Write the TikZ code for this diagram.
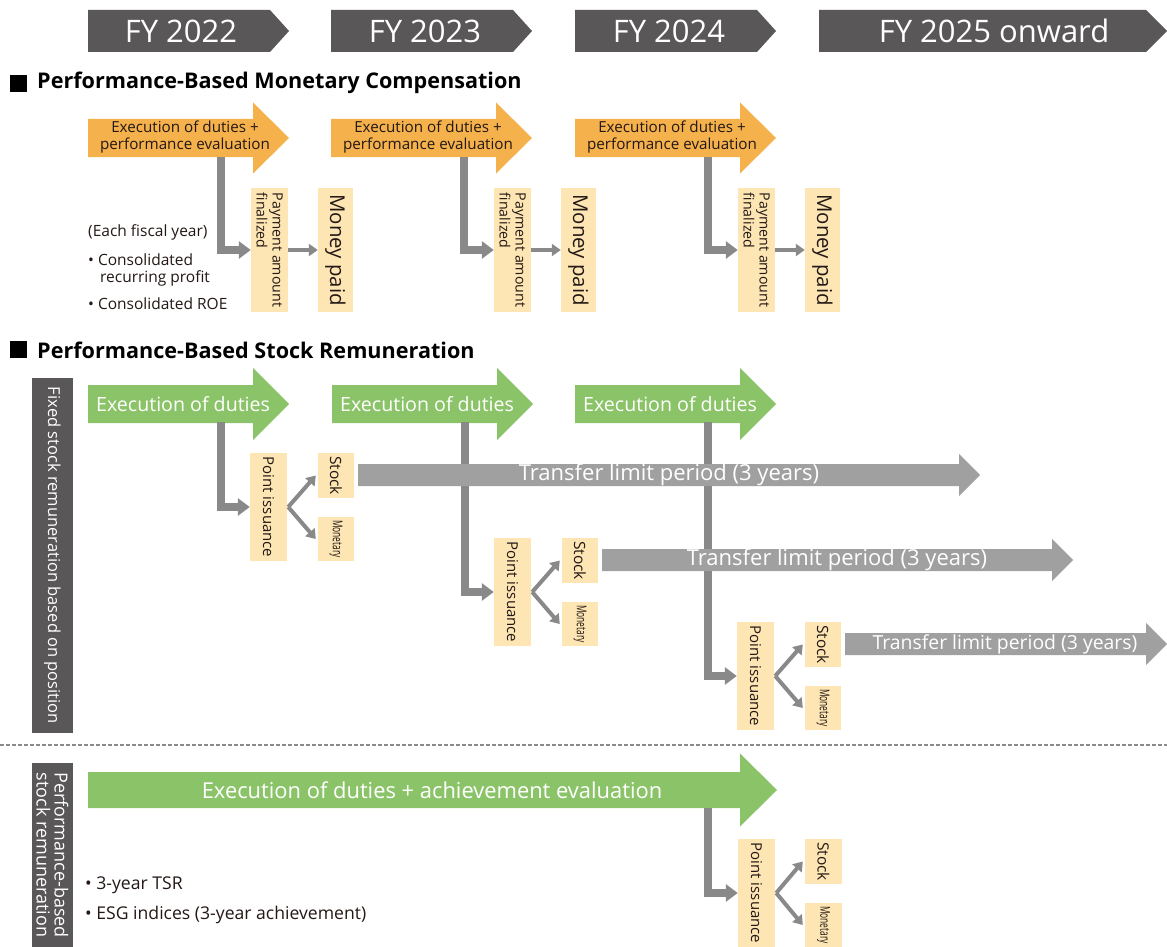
\documentclass[tikz,border=0pt]{standalone}
\usepackage{fontspec}
\usepackage{graphicx}
\setmainfont{Open Sans}
\usetikzlibrary{arrows.meta}
\definecolor{hdrgray}{RGB}{89,87,87}
\definecolor{orng}{RGB}{245,177,76}
\definecolor{ylw}{RGB}{253,230,180}
\definecolor{grn}{RGB}{139,196,104}
\definecolor{cgray}{RGB}{137,137,137}
\definecolor{tgray}{RGB}{160,160,160}
\definecolor{txt}{RGB}{35,24,21}
\newcommand{\fsz}[1]{\fontsize{#1}{#1}\selectfont}
\newcommand{\blockarrow}[7]{\fill[#1] (#2,#5-#6) -- (#3,#5-#6) -- (#3,#5-#7) -- (#4,#5) -- (#3,#5+#7) -- (#3,#5+#6) -- (#2,#5+#6) -- cycle;}
\begin{document}
\begin{tikzpicture}[x=1pt,y=-1pt,
  ybox/.style={fill=ylw, inner sep=0pt},
  conn/.style={draw=cgray, line width=8pt, -{Triangle[length=12pt,width=17pt]}},
  thinconn/.style={draw=cgray, line width=4pt, -{Triangle[length=9pt,width=12pt]}},
  vtxt/.style={rotate=-90, text=txt, inner sep=0pt},
  wtxt/.style={text=white, inner sep=0pt},
  btxt/.style={text=txt, inner sep=0pt, anchor=west}]
\useasboundingbox (0,0) rectangle (1167,947);
\fill[white] (0,0) rectangle (1167,947);

% ---------- header ----------
\blockarrow{hdrgray}{88}{270}{289}{31}{21}{21}
\blockarrow{hdrgray}{331}{513}{532}{31}{21}{21}
\blockarrow{hdrgray}{575}{757}{776}{31}{21}{21}
\blockarrow{hdrgray}{819}{1146}{1167}{31}{21}{21}
\node[wtxt, font=\fsz{31}] (fy22) at (181,31) {FY 2022};
\node[wtxt, font=\fsz{31}] (fy23) at (425,31) {FY 2023};
\node[wtxt, font=\fsz{31}] (fy24) at (669,31) {FY 2024};
\node[wtxt, font=\fsz{31}] (fy25) at (994,31) {FY 2025 onward};

% ---------- monetary compensation ----------
\fill[black] (10,75) rectangle (27,92);
\node[btxt, text=black, font=\bfseries\fsz{21.6}] (h1) at (37,83) {Performance-Based Monetary Compensation};

\foreach \i/\ox in {1/0,2/243,3/487}{
  \blockarrow{orng}{88+\ox}{253+\ox}{289+\ox}{138}{19}{35.5}
  \node[text=txt, inner sep=0pt, align=center, font=\fontsize{15.2}{17}\selectfont] (ot\i) at (185+\ox,137) {Execution of duties +\\performance evaluation};
  \coordinate (ov\i) at (221+\ox,157);
  \node[ybox, minimum width=37pt, minimum height=124pt] (pay\i) at (269.5+\ox,250) {};
  \node[ybox, minimum width=35pt, minimum height=124pt] (mon\i) at (335.5+\ox,250) {};
  \node[vtxt, align=left, font=\fontsize{14.2}{16}\selectfont] (payt\i) at (pay\i.center) {Payment amount\\finalized};
  \node[vtxt, font=\fsz{20.4}] (mont\i) at (mon\i.center) {Money paid};
  \draw[conn] (ov\i) |- (pay\i.west);
  \draw[thinconn] (pay\i.east) -- (mon\i.west);
}
\node[btxt, font=\fsz{15.5}] (l1) at (88,232) {(Each fiscal year)};
\node[btxt, font=\fsz{15.5}] (l2) at (88,260) {\textbullet\ Consolidated};
\node[btxt, font=\fsz{15.5}] (l3) at (100,278) {recurring profit};
\node[btxt, font=\fsz{15.5}] (l4) at (88,304) {\textbullet\ Consolidated ROE};

% ---------- stock remuneration ----------
\fill[black] (10,341) rectangle (27,358);
\node[btxt, text=black, font=\bfseries\fsz{21.6}] (h2) at (37,350) {Performance-Based Stock Remuneration};

\fill[hdrgray] (32,378) rectangle (73,733);
\node[wtxt, rotate=-90, font=\fsz{16.5}] (bar1) at (52.5,555.5) {Fixed stock remuneration based on position};

\foreach \i/\ox/\oy in {1/0/453, 2/244/538, 3/487/622}{
  \blockarrow{grn}{88+\ox}{253+\ox}{289+\ox}{404}{19}{36}
  \node[wtxt, anchor=west, font=\fsz{19.6}] (gt\i) at (96+\ox,404) {Execution of duties};
  \node[ybox, minimum width=37pt, minimum height=108pt] (pt\i) at (268.5+\ox,\oy+54) {};
  \node[ybox, minimum width=36pt, minimum height=45pt] (st\i) at (336+\ox,\oy+22.5) {};
  \node[ybox, minimum width=36pt, minimum height=44pt] (mo\i) at (336+\ox,\oy+86) {};
  \node[vtxt, font=\fsz{15}] (ptt\i) at (pt\i.center) {Point issuance};
  \node[vtxt, font=\fsz{15.5}] (stt\i) at (st\i.center) {Stock};
  \node[vtxt] (mot\i) at (mo\i.center) {\scalebox{0.62}[1]{\fsz{13.5}Monetary}};
  \coordinate (gv\i) at (221+\ox,422);
  \draw[conn] (gv\i) |- (pt\i.west);
  \draw[thinconn] ([xshift=1pt]pt\i.east) -- ([xshift=-2pt]st\i.west);
  \draw[thinconn] ([xshift=1pt]pt\i.east) -- ([xshift=-2pt]mo\i.west);
}
\foreach \i/\ox/\oy/\tc/\tend/\ts in {1/0/453/669/980/22, 2/244/538/837/1073/22, 3/487/622/1005/1167/19.4}{
  \blockarrow{tgray}{358+\ox}{\tend-21}{\tend}{\oy+22}{11}{21}
  \node[wtxt, font=\fsz{\ts}] (tt\i) at (\tc,\oy+22) {Transfer limit period (3 years)};
}

% ---------- separator ----------
\draw[cgray, line width=1.5pt, dash pattern=on 4pt off 2pt] (0,745) -- (1167,745);

% ---------- performance-based stock remuneration ----------
\fill[hdrgray] (32,763) rectangle (73,947);
\node[wtxt, rotate=-90, align=center, font=\fontsize{18}{18}\selectfont] (bar2) at (52.5,855) {Performance-based\\stock remuneration};

\blockarrow{grn}{88}{740}{777}{790}{18}{36.5}
\node[wtxt, font=\fsz{21.9}] (bgt) at (432,790) {Execution of duties + achievement evaluation};
\coordinate (gv4) at (708,808);
\node[ybox, minimum width=37pt, minimum height=108pt] (pt4) at (756.5,893) {};
\node[ybox, minimum width=37pt, minimum height=45pt] (st4) at (823.5,861.5) {};
\node[ybox, minimum width=37pt, minimum height=44pt] (mo4) at (823.5,925) {};
\node[vtxt, font=\fsz{15}] (ptt4) at (pt4.center) {Point issuance};
\node[vtxt, font=\fsz{15.5}] (stt4) at (st4.center) {Stock};
\node[vtxt] (mot4) at (mo4.center) {\scalebox{0.62}[1]{\fsz{13.5}Monetary}};
\draw[conn] (gv4) |- (pt4.west);
\draw[thinconn] ([xshift=1pt]pt4.east) -- ([xshift=-2pt]st4.west);
\draw[thinconn] ([xshift=1pt]pt4.east) -- ([xshift=-2pt]mo4.west);

\node[btxt, font=\fsz{17.6}] (b1) at (85,885) {\textbullet\ 3-year TSR};
\node[btxt, font=\fsz{17.6}] (b2) at (85,915) {\textbullet\ ESG indices (3-year achievement)};
\end{tikzpicture}
\end{document}
